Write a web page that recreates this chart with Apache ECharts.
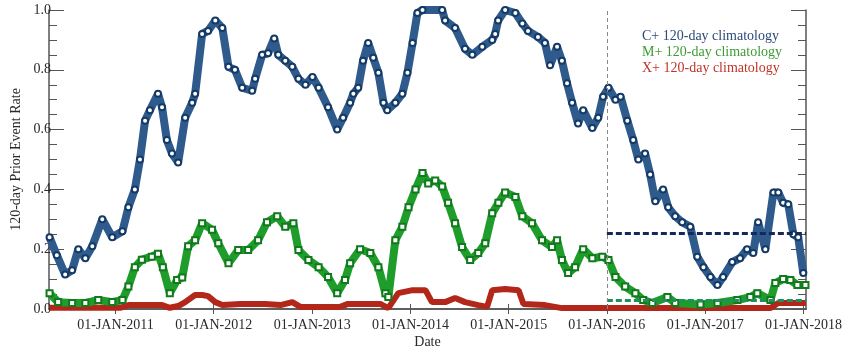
<!DOCTYPE html>
<html>
<head>
<meta charset="utf-8">
<title>120-day Prior Event Rate</title>
<script src="https://cdn.jsdelivr.net/npm/echarts@6/dist/echarts.min.js"></script>
<style>
	html, body { margin: 0; padding: 0; background: #fff; }
	#rate_charts { width: 850px; height: 352px; }
</style>
</head>
<body>
<div id="rate_charts"></div>
<script>
// C+ 120-day climatology
var cDates = ['2010-05-01', '2010-05-28', '2010-06-28', '2010-07-24', '2010-08-16', '2010-09-11', '2010-10-07', '2010-11-13', '2010-12-20',
	'2011-01-27', '2011-02-18', '2011-03-14', '2011-04-02', '2011-04-21', '2011-05-09', '2011-06-08', '2011-06-23', '2011-07-11', '2011-07-30',
	'2011-08-22', '2011-09-17', '2011-10-13', '2011-10-24', '2011-11-19', '2011-12-11', '2012-01-07', '2012-02-02', '2012-02-25', '2012-03-20',
	'2012-04-16', '2012-05-23', '2012-06-03', '2012-06-29', '2012-07-21', '2012-08-13', '2012-08-28', '2012-09-23', '2012-10-19', '2012-11-11',
	'2012-12-07', '2013-01-02', '2013-01-25', '2013-03-01', '2013-04-04', '2013-04-26', '2013-05-22', '2013-06-03', '2013-06-21', '2013-07-09',
	'2013-07-28', '2013-08-16', '2013-09-04', '2013-09-23', '2013-10-07', '2013-11-06', '2013-12-02', '2013-12-21', '2014-01-09', '2014-01-27',
	'2014-02-15', '2014-04-29', '2014-05-10', '2014-06-16', '2014-07-23', '2014-08-19', '2014-09-25', '2014-11-01', '2014-11-12', '2014-11-23',
	'2014-12-19', '2015-01-26', '2015-02-21', '2015-03-14', '2015-04-20', '2015-05-16', '2015-06-04', '2015-06-30', '2015-07-18', '2015-08-06',
	'2015-08-25', '2015-09-16', '2015-10-05', '2015-11-08', '2015-11-30', '2015-12-18', '2016-01-07', '2016-02-02', '2016-02-21', '2016-03-17',
	'2016-04-08', '2016-04-27', '2016-05-22', '2016-06-10', '2016-06-29', '2016-07-28', '2016-08-16', '2016-09-11', '2016-10-07', '2016-11-06',
	'2016-12-02', '2016-12-25', '2017-01-20', '2017-02-15', '2017-03-08', '2017-04-11', '2017-05-10', '2017-06-05', '2017-06-28', '2017-07-16',
	'2017-08-12', '2017-09-11', '2017-09-29', '2017-10-17', '2017-11-05', '2017-11-24', '2017-12-12', '2017-12-31'];
var cValues = [0.24, 0.18, 0.115, 0.13, 0.20, 0.17, 0.21, 0.30, 0.24,
	0.26, 0.34, 0.40, 0.50, 0.63, 0.665, 0.72, 0.675, 0.565, 0.52,
	0.49, 0.64, 0.69, 0.72, 0.92, 0.93, 0.965, 0.94, 0.81, 0.80,
	0.74, 0.73, 0.77, 0.85, 0.855, 0.905, 0.85, 0.83, 0.81, 0.77,
	0.75, 0.776, 0.74, 0.675, 0.60, 0.64, 0.69, 0.72, 0.74, 0.83,
	0.89, 0.84, 0.79, 0.69, 0.665, 0.69, 0.72, 0.79, 0.89, 0.99,
	1.0, 1.0, 0.965, 0.94, 0.87, 0.85, 0.877, 0.90, 0.92, 0.965,
	1.0, 0.99, 0.955, 0.93, 0.91, 0.89, 0.815, 0.877, 0.83, 0.755,
	0.69, 0.62, 0.665, 0.605, 0.64, 0.71, 0.74, 0.70, 0.71, 0.63,
	0.565, 0.50, 0.52, 0.45, 0.36, 0.40, 0.34, 0.31, 0.29, 0.275,
	0.175, 0.14, 0.107, 0.08, 0.107, 0.157, 0.17, 0.20, 0.187, 0.29,
	0.20, 0.39, 0.39, 0.355, 0.35, 0.25, 0.24, 0.12];

// M+ 120-day climatology
var mDates = ['2010-05-01', '2010-06-02', '2010-07-24', '2010-09-11', '2010-10-29', '2010-12-20', '2011-01-27', '2011-02-18', '2011-03-14',
	'2011-04-09', '2011-05-16', '2011-06-08', '2011-06-26', '2011-07-22', '2011-08-18', '2011-09-06', '2011-09-28', '2011-10-24', '2011-11-19',
	'2011-12-26', '2012-01-18', '2012-02-25', '2012-04-01', '2012-05-08', '2012-06-14', '2012-07-17', '2012-08-24', '2012-09-23', '2012-10-23',
	'2012-11-11', '2012-12-18', '2013-01-25', '2013-03-01', '2013-04-04', '2013-05-03', '2013-05-22', '2013-06-28', '2013-08-05', '2013-09-04',
	'2013-09-30', '2013-10-11', '2013-11-06', '2013-12-02', '2013-12-25', '2014-01-20', '2014-02-15', '2014-03-08', '2014-04-03', '2014-04-29',
	'2014-05-21', '2014-06-16', '2014-07-12', '2014-08-11', '2014-09-10', '2014-10-06', '2014-11-01', '2014-11-24', '2014-12-19', '2015-01-26',
	'2015-02-21', '2015-03-29', '2015-05-05', '2015-06-11', '2015-06-30', '2015-07-18', '2015-08-10', '2015-09-05', '2015-10-05', '2015-11-08',
	'2015-12-15', '2016-01-07', '2016-02-02', '2016-03-09', '2016-04-16', '2016-05-15', '2016-06-18', '2016-08-13', '2016-09-11', '2016-12-14',
	'2017-02-15', '2017-04-30', '2017-06-17', '2017-07-13', '2017-08-31', '2017-09-18', '2017-10-17', '2017-11-13', '2017-12-09', '2018-01-08'];
var mValues = [0.053, 0.023, 0.02, 0.02, 0.03, 0.023, 0.03, 0.075, 0.14,
	0.165, 0.175, 0.185, 0.14, 0.053, 0.097, 0.105, 0.21, 0.23, 0.287,
	0.265, 0.22, 0.153, 0.197, 0.197, 0.23, 0.29, 0.31, 0.275, 0.287,
	0.197, 0.164, 0.14, 0.107, 0.053, 0.097, 0.153, 0.20, 0.187, 0.14,
	0.053, 0.04, 0.23, 0.275, 0.34, 0.40, 0.455, 0.42, 0.43, 0.41,
	0.355, 0.287, 0.207, 0.164, 0.187, 0.22, 0.32, 0.355, 0.39, 0.375,
	0.31, 0.287, 0.23, 0.207, 0.23, 0.164, 0.12, 0.14, 0.20, 0.17,
	0.175, 0.164, 0.107, 0.075, 0.053, 0.03, 0.02, 0.04, 0.02, 0.015,
	0.02, 0.03, 0.04, 0.053, 0.03, 0.087, 0.10, 0.097, 0.08, 0.08];

// X+ 120-day climatology
var xDates = ['2010-05-01', '2011-01-18', '2011-02-18', '2011-06-23', '2011-07-22', '2011-08-22', '2011-09-17', '2011-10-24', '2011-11-19',
	'2011-12-11', '2012-01-07', '2012-02-02', '2012-04-09', '2012-07-10', '2012-09-05', '2012-10-19', '2012-11-18', '2013-04-15', '2013-05-14',
	'2013-09-11', '2013-10-11', '2013-11-17', '2014-01-09', '2014-02-26', '2014-03-22', '2014-05-10', '2014-06-16', '2014-07-23', '2014-09-10',
	'2014-10-13', '2014-11-01', '2014-12-19', '2015-02-07', '2015-02-25', '2015-05-16', '2015-07-18', '2017-08-31', '2017-09-29', '2018-01-10'];
var xValues = [0.004, 0.004, 0.013, 0.013, 0.004, 0.01, 0.023, 0.047, 0.047,
	0.043, 0.023, 0.013, 0.017, 0.017, 0.013, 0.023, 0.007, 0.007, 0.017,
	0.017, 0.003, 0.053, 0.063, 0.063, 0.023, 0.023, 0.037, 0.023, 0.013,
	0.007, 0.063, 0.067, 0.063, 0.017, 0.013, 0.003, 0.003, 0.02, 0.02];

// forecast period climatology levels
var climStart = '2016-01-01';
var climEnd = '2018-01-10';
var cClim = 0.254;
var mClim = 0.03;

var axisStart = '2010-04-29';
var axisEnd = '2018-01-10';
var tickDates = ['2011-01-01', '2012-01-01', '2013-01-01', '2014-01-01', '2015-01-01', '2016-01-01', '2017-01-01', '2018-01-01'];
var tickLabels = ['01-JAN-2011', '01-JAN-2012', '01-JAN-2013', '01-JAN-2014', '01-JAN-2015', '01-JAN-2016', '01-JAN-2017', '01-JAN-2018'];

// dates -> timestamps so a plain value axis can take custom tick positions
function ts(d) {
	return +echarts.time.parse(d);
}

function pair(dates, values) {
	var out = [];
	for (var i = 0; i < dates.length; i++) {
		out.push([ts(dates[i]), values[i]]);
	}
	return out;
}

var tickTimes = [];
for (var i = 0; i < tickDates.length; i++) {
	tickTimes.push(ts(tickDates[i]));
}

var serif = '"Liberation Serif", "DejaVu Serif", serif';
var axisColor = '#555';
var textColor = '#2a2a2a';

var myChart = echarts.init(document.getElementById('rate_charts'));

var option = {
	animation: false,
	grid: {left: 49, right: 44, top: 10, bottom: 43, outerBoundsMode: 'none'},
	legend: {
		orient: 'vertical',
		left: 632,
		top: 24,
		icon: 'none',
		itemWidth: 0,
		itemHeight: 14,
		itemGap: 2,
		selectedMode: false,
		textStyle: {fontFamily: serif, fontSize: 14},
		data: [
			{name: 'C+ 120-day climatology', textStyle: {color: '#2a4a78'}},
			{name: 'M+ 120-day climatology', textStyle: {color: '#3f9a34'}},
			{name: 'X+ 120-day climatology', textStyle: {color: '#bf3328'}}
		]
	},
	xAxis: [
		{
			type: 'value',
			min: ts(axisStart),
			max: ts(axisEnd),
			name: 'Date',
			nameLocation: 'middle',
			nameGap: 26,
			nameMoveOverlap: false,
			nameTextStyle: {fontFamily: serif, fontSize: 14, color: textColor},
			axisLine: {lineStyle: {color: axisColor, width: 1.5}},
			axisTick: {inside: true, length: 5, customValues: tickTimes, lineStyle: {color: axisColor}},
			axisLabel: {
				customValues: tickTimes,
				margin: 9,
				fontFamily: serif,
				fontSize: 14,
				color: textColor,
				formatter: function (v) {
					var k = tickTimes.indexOf(v);
					return k >= 0 ? tickLabels[k] : '';
				}
			},
			splitLine: {show: false}
		},
		{
			type: 'value',
			position: 'top',
			min: ts(axisStart),
			max: ts(axisEnd),
			axisLine: {lineStyle: {color: axisColor, width: 1.5}},
			axisTick: {inside: true, length: 5, customValues: tickTimes, lineStyle: {color: axisColor}},
			axisLabel: {show: false},
			splitLine: {show: false}
		}
	],
	yAxis: [
		{
			type: 'value',
			min: 0,
			max: 1,
			interval: 0.2,
			name: '120-day Prior Event Rate',
			nameLocation: 'middle',
			nameGap: 26,
			nameMoveOverlap: false,
			nameTextStyle: {fontFamily: serif, fontSize: 14, color: textColor},
			axisLine: {show: true, lineStyle: {color: axisColor, width: 1.5}},
			axisTick: {show: true, inside: true, length: 15, lineStyle: {color: axisColor}},
			minorTick: {show: true, splitNumber: 4, length: 8, lineStyle: {color: axisColor}},
			axisLabel: {
				margin: -2,
				fontFamily: serif,
				fontSize: 14,
				color: textColor,
				formatter: function (v) { return v.toFixed(1); }
			},
			splitLine: {show: false}
		},
		{
			type: 'value',
			position: 'right',
			min: 0,
			max: 1,
			interval: 0.2,
			axisLine: {show: true, lineStyle: {color: axisColor, width: 1.5}},
			axisTick: {show: true, inside: true, length: 15, lineStyle: {color: axisColor}},
			minorTick: {show: true, splitNumber: 4, length: 8, lineStyle: {color: axisColor}},
			axisLabel: {show: false},
			splitLine: {show: false}
		}
	],
	series: [
		{
			name: 'C+ 120-day climatology',
			type: 'line',
			data: pair(cDates, cValues),
			symbol: 'emptyCircle',
			symbolSize: 6,
			showAllSymbol: true,
			itemStyle: {color: '#143a66', borderWidth: 1.5},
			lineStyle: {color: '#2f5a8c', width: 8},
			z: 4,
			markLine: {
				silent: true,
				symbol: 'none',
				label: {show: false},
				data: [
					[{coord: [ts(climStart), cClim]}, {coord: [ts(climEnd), cClim]}]
				],
				lineStyle: {color: '#15285a', width: 3, type: [6, 3]}
			}
		},
		{
			name: 'M+ 120-day climatology',
			type: 'line',
			data: pair(mDates, mValues),
			symbol: 'emptyRect',
			symbolSize: 6,
			showAllSymbol: true,
			itemStyle: {color: '#117a1c', borderWidth: 1.2},
			lineStyle: {color: '#1f9d2b', width: 8},
			z: 3,
			markLine: {
				silent: true,
				symbol: 'none',
				label: {show: false},
				data: [
					[{coord: [ts(climStart), mClim]}, {coord: [ts(climEnd), mClim]}]
				],
				lineStyle: {color: '#1f8f5f', width: 3, type: [6, 3]}
			}
		},
		{
			name: 'X+ 120-day climatology',
			type: 'line',
			data: pair(xDates, xValues),
			symbol: 'none',
			itemStyle: {color: '#b3261a'},
			lineStyle: {color: '#b3261a', width: 6},
			z: 2,
			markLine: {
				silent: true,
				symbol: 'none',
				label: {show: false},
				data: [{xAxis: ts(climStart)}],
				lineStyle: {color: '#888', width: 1, type: [4, 3]}
			}
		}
	]
};

myChart.setOption(option);
</script>
</body>
</html>
